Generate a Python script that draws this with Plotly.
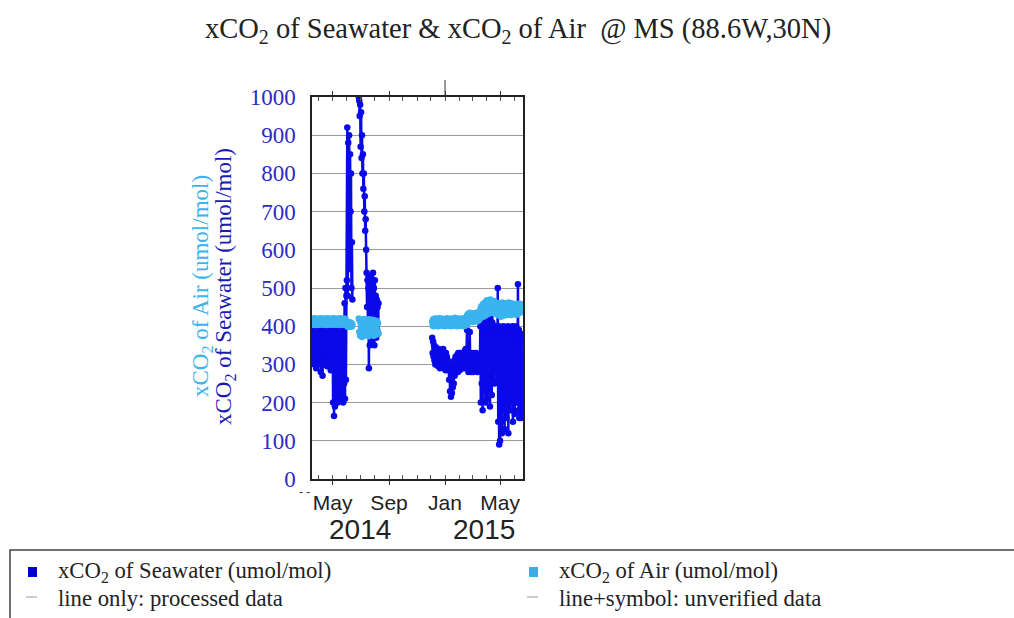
import plotly.graph_objects as go
import pandas as pd

# ---------------- data (daily samples) ----------------
sw_a_start = "2014-03-17"
sw_a = [410, 305, 400, 320, 415, 300, 395, 310, 405, 290, 412, 315, 398, 300, 408, 325,
        395, 305, 410, 280, 400, 318, 392, 270, 405, 300, 415, 322, 396, 305, 408, 312,
        400, 295, 410, 320, 393, 300, 405, 310, 398, 285, 412, 305, 400,
        380, 200, 370, 165, 385, 190, 360, 210, 375, 220,
        390, 200, 380, 230, 370, 205, 385, 240, 360, 210, 390, 230, 380, 200, 370, 250,
        460, 210, 500, 260, 480,
        520, 920, 480, 880, 600, 900, 550, 850, 700, 800, 500, 620, 470]

sw_b_start = "2014-06-27"
sw_b = [1000, 990, 950, 980, 870, 960, 840, 900, 800, 850, 760, 800, 700, 740, 650, 680, 600,
        540, 450, 520, 380, 500, 290, 480, 350, 530, 400, 510, 360, 490, 420, 540, 380,
        500, 350, 520, 400, 480, 370, 470, 390, 450, 380, 460]

sw_c_start = "2014-12-04"
sw_c = [370, 330, 360, 320, 350, 310, 340, 300, 345, 310, 335, 305,
        330, 295, 340, 300, 320, 290, 335, 300, 330, 310, 325, 295, 340, 300, 320, 290,
        315, 285, 330, 300, 320, 295, 310, 290,
        300, 260, 290, 230, 280, 215, 270, 225, 290, 240, 300, 250, 310, 270, 300,
        320, 285, 315, 290, 325, 280, 330, 290, 320, 285, 330, 295, 320, 290, 325, 300,
        330, 290, 320, 300, 335, 290, 340, 300, 330,
        390,
        300, 330, 280, 320, 290, 385, 300, 330, 280, 320, 290, 310, 280, 330, 300, 325,
        285, 320, 290, 330, 300, 325, 280, 320, 290, 310, 285, 300,
        400, 200, 420, 250, 380, 180, 410, 230, 390, 260, 420, 200, 400, 240, 380, 210,
        410, 270, 395, 230, 400, 190, 420, 250, 380, 220, 410, 260, 390, 300, 400, 250,
        380, 280, 400, 300, 390, 260,
        500, 150, 400, 90, 380, 100, 350, 150, 390, 120, 370, 200, 400, 180, 360, 130,
        390, 200, 380, 160, 350, 200, 400, 120, 370, 250, 390, 180, 360, 230, 380, 200,
        400, 150, 370, 220, 390, 170, 350, 240, 400, 200, 380, 260, 510, 180, 390, 160,
        370, 200, 380, 160, 360, 190, 170]

air_a_start = "2014-03-17"
air_a = [418, 406, 420, 404, 416, 408, 421, 405, 417, 407, 419, 403, 415, 409, 420, 406,
         418, 404, 416, 410, 421, 405, 417, 407, 419, 404, 415, 408, 420, 406, 418, 403,
         416, 409, 421, 405, 417, 407, 419, 404, 415, 408, 420, 406, 418, 404, 416, 409,
         421, 405, 417, 407, 419, 404, 415, 408, 420, 406, 418, 403, 416, 409, 421, 405,
         417, 407, 419, 404, 415, 408, 420, 406, 418, 404, 416, 409, 412, 400, 410, 398,
         411, 401, 409, 399, 410, 400, 408, 399, 405]

air_b_start = "2014-06-27"
air_b = [420, 385, 415, 375, 418, 380, 410, 372, 416, 388, 412, 378, 419, 383, 414, 376,
         417, 390, 411, 380, 415, 374, 418, 386, 413, 379, 416, 382, 410, 377, 417, 389,
         412, 375, 415, 384, 409, 380, 414, 378, 411, 386, 408, 381]

air_c_start = "2014-12-04"
air_c = [412, 402, 418, 400, 415, 405, 420, 401, 414, 404, 419, 403, 416, 400, 421, 406,
         413, 402, 417, 404, 420, 401, 415, 405, 418, 403, 414, 400, 419, 406, 416, 402,
         421, 404, 413, 401, 418, 405, 415, 403, 420, 400, 417, 406, 414, 402, 419, 404,
         416, 401, 422, 405, 413, 403, 418, 400, 415, 406, 420, 402, 417, 404, 414, 401,
         419, 405, 416, 403, 421, 400, 418, 406, 415, 402, 420, 404,
         428, 412, 432, 415, 426, 410, 435, 418, 430, 413, 427, 416, 433, 411, 429, 417,
         434, 414, 428, 419, 431, 412, 436, 420, 430, 415, 433, 418, 438,
         445, 422, 452, 428, 448, 425, 458, 430, 450, 426, 462, 435, 455, 430, 468, 438,
         452, 432, 465, 440, 458, 436, 470, 442, 455, 438, 463, 445, 460, 437, 466, 440,
         455, 432, 462, 445, 458, 440,
         455, 430, 460, 428, 452, 435, 458, 425, 450, 432, 462, 438, 455, 430, 448, 428,
         460, 436, 452, 433, 458, 440, 450, 430, 462, 437, 455, 432, 448, 429, 460, 438,
         452, 434, 458, 440, 450, 431, 456, 436, 452, 430, 459, 438, 450, 433, 455, 440,
         452, 436, 458, 442, 450, 438, 455]

x_range = ["2014-03-17", "2015-06-20"]
tick_dates = ["2014-05-01", "2014-09-01", "2015-01-01", "2015-05-01"]
tick_labels = ["May", "Sep", "Jan", "May"]
year_labels = ["2014", "2015"]

SW_COLOR = "#0a0ae8"
AIR_COLOR = "#3ab4ee"


def join_segments(segments):
    xs, ys = [], []
    for start, vals in segments:
        d = pd.date_range(start, periods=len(vals), freq="D")
        xs += list(d.strftime("%Y-%m-%d")) + [None]
        ys += list(vals) + [None]
    return xs, ys


sw_x, sw_y = join_segments([(sw_a_start, sw_a), (sw_b_start, sw_b), (sw_c_start, sw_c)])
air_x, air_y = join_segments([(air_a_start, air_a), (air_b_start, air_b), (air_c_start, air_c)])

fig = go.Figure()
fig.add_trace(go.Scatter(x=sw_x, y=sw_y, mode="lines+markers",
                         line=dict(color=SW_COLOR, width=2.5),
                         marker=dict(color=SW_COLOR, size=6.5),
                         connectgaps=False, showlegend=False))
fig.add_trace(go.Scatter(x=air_x, y=air_y, mode="lines+markers",
                         line=dict(color=AIR_COLOR, width=2.5),
                         marker=dict(color=AIR_COLOR, size=6.5),
                         connectgaps=False, showlegend=False))

# ---------------- layout ----------------
W, H = 1014, 618
L, R, T, B = 312, 523, 97, 479


def px(x):
    return (x - L) / (R - L)


def py(y):
    return (B - y) / (B - T)


SERIF = "Liberation Serif"
SANS = "Liberation Sans"

fig.update_layout(
    width=W, height=H,
    margin=dict(l=L, r=W - R, t=T, b=H - B),
    paper_bgcolor="white", plot_bgcolor="white",
    showlegend=False,
    xaxis=dict(type="date", range=x_range, tickvals=tick_dates, ticktext=tick_labels,
               showgrid=False, showline=True, linecolor="#222", linewidth=1.5,
               mirror="allticks", ticks="outside", ticklen=4, tickcolor="#333",
               tickfont=dict(family=SANS, size=21, color="#222"),
               minor=dict(dtick="M1", ticks="inside", ticklen=4, tickcolor="#555",
                          showgrid=False),
               zeroline=False),
    yaxis=dict(range=[0, 1000], dtick=100, showgrid=True, gridcolor="#9a9a9a", gridwidth=1,
               showline=True, linecolor="#222", linewidth=1.5, mirror=True,
               ticks="", ticklabelstandoff=10,
               tickfont=dict(family=SERIF, size=23, color="#2b2bc8"),
               zeroline=False),
)

annotations = [
    dict(text="xCO<sub>2</sub> of Seawater &amp; xCO<sub>2</sub> of Air  @ MS (88.6W,30N)",
         xref="paper", yref="paper", x=px(518), y=py(30), xanchor="center", yanchor="middle",
         showarrow=False, font=dict(family=SERIF, size=28.5, color="#222")),
    dict(text="xCO<sub>2</sub> of Air (umol/mol)", textangle=-90,
         xref="paper", yref="paper", x=px(202), y=py(286), xanchor="center", yanchor="middle",
         showarrow=False, font=dict(family=SERIF, size=23, color="#3ab4ee")),
    dict(text="xCO<sub>2</sub> of Seawater (umol/mol)", textangle=-90,
         xref="paper", yref="paper", x=px(225), y=py(287), xanchor="center", yanchor="middle",
         showarrow=False, font=dict(family=SERIF, size=23, color="#1a1ab4")),
    dict(text=year_labels[0], xref="paper", yref="paper", x=px(360), y=py(529),
         xanchor="center", yanchor="middle", showarrow=False,
         font=dict(family=SANS, size=28, color="#222")),
    dict(text=year_labels[1], xref="paper", yref="paper", x=px(484), y=py(529),
         xanchor="center", yanchor="middle", showarrow=False,
         font=dict(family=SANS, size=28, color="#222")),
    dict(text="- -", xref="paper", yref="paper", x=px(304), y=py(492),
         xanchor="center", yanchor="middle", showarrow=False,
         font=dict(family=SANS, size=12, color="#333")),
    # legend texts
    dict(text="xCO<sub>2</sub> of Seawater (umol/mol)", xref="paper", yref="paper",
         x=px(56), y=py(572), xanchor="left", yanchor="middle", showarrow=False,
         font=dict(family=SERIF, size=22.7, color="#222")),
    dict(text="line only: processed data", xref="paper", yref="paper",
         x=px(56), y=py(598), xanchor="left", yanchor="middle", showarrow=False,
         font=dict(family=SERIF, size=22.7, color="#222")),
    dict(text="xCO<sub>2</sub> of Air (umol/mol)", xref="paper", yref="paper",
         x=px(557), y=py(572), xanchor="left", yanchor="middle", showarrow=False,
         font=dict(family=SERIF, size=22.7, color="#222")),
    dict(text="line+symbol: unverified data", xref="paper", yref="paper",
         x=px(557), y=py(598), xanchor="left", yanchor="middle", showarrow=False,
         font=dict(family=SERIF, size=22.7, color="#222")),
]
fig.update_layout(annotations=annotations)

shapes = [
    # year boundary tick above the frame
    dict(type="line", xref="x", yref="paper", x0="2015-01-01", x1="2015-01-01",
         y0=1.0, y1=py(80), line=dict(color="#333", width=1)),
    # legend box
    dict(type="rect", xref="paper", yref="paper", x0=px(10), x1=px(1030),
         y0=py(630), y1=py(550), line=dict(color="#444", width=1.5), fillcolor="rgba(0,0,0,0)"),
    # legend squares
    dict(type="rect", xref="paper", yref="paper", x0=px(28), x1=px(37),
         y0=py(577), y1=py(567), line=dict(width=0), fillcolor="#0000cc"),
    dict(type="rect", xref="paper", yref="paper", x0=px(529), x1=px(538),
         y0=py(577), y1=py(567), line=dict(width=0), fillcolor="#3aaee0"),
    # legend dashes
    dict(type="line", xref="paper", yref="paper", x0=px(26), x1=px(37),
         y0=py(597), y1=py(597), line=dict(color="#999", width=1)),
    dict(type="line", xref="paper", yref="paper", x0=px(527), x1=px(538),
         y0=py(597), y1=py(597), line=dict(color="#999", width=1)),
]
fig.update_layout(shapes=shapes)

fig.write_html("out.html")
